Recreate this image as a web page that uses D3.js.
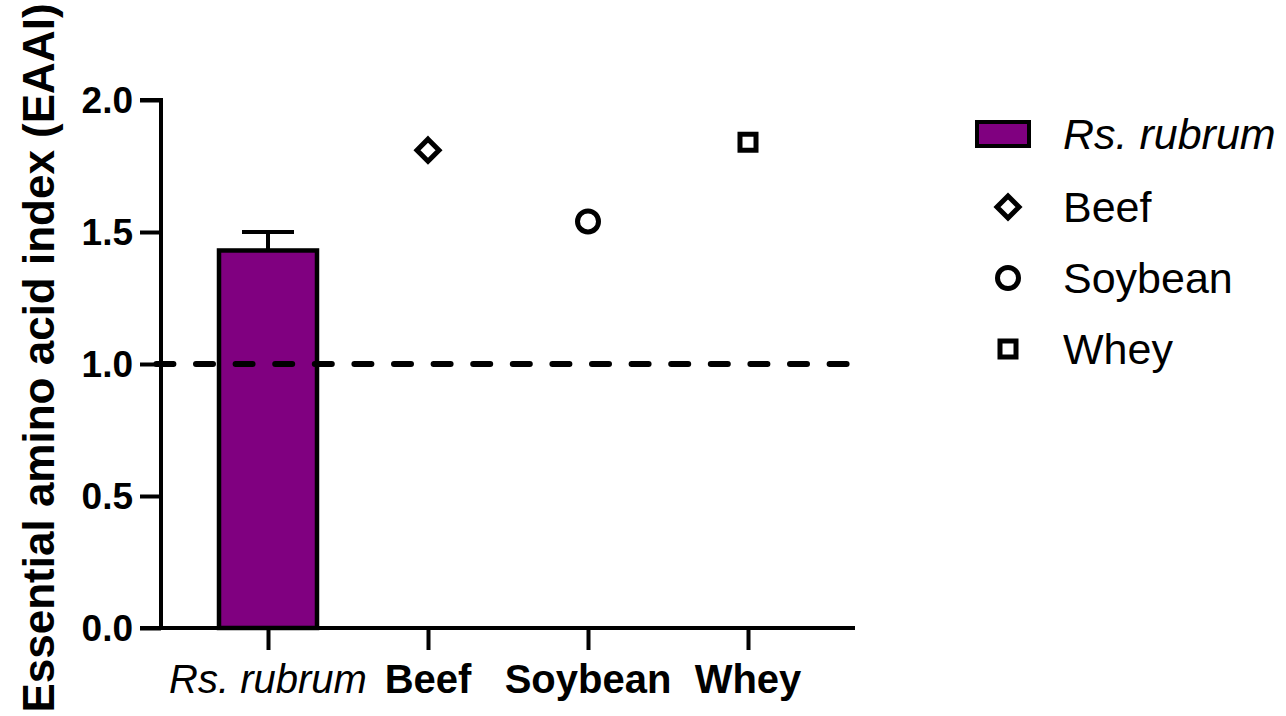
<!DOCTYPE html>
<html>
<head>
<meta charset="utf-8">
<script src="https://cdn.jsdelivr.net/npm/d3@7"></script>
<style>
  html, body { margin: 0; padding: 0; background: #fff; }
  svg { display: block; font-family: "Liberation Sans", Arial, sans-serif; }
</style>
</head>
<body>
<svg id="chart" width="1286" height="716"></svg>
<script>
// Essential amino acid index of Rs. rubrum compared with reference proteins
const categories = ["Rs. rubrum", "Beef", "Soybean", "Whey"];
const barValue = 1.43;          // Rs. rubrum mean
const barError = 0.07;          // upper error (SD)
const refValues = [1.81, 1.54, 1.84]; // Beef, Soybean, Whey
const refNames = ["Beef", "Soybean", "Whey"];
const refShapes = ["diamond", "circle", "square"];
const yTicks = [0.0, 0.5, 1.0, 1.5, 2.0];
const threshold = 1.0;
const barColor = "#800080";

const svg = d3.select("#chart");
const FONT = "'Liberation Sans', Arial, sans-serif";

const x = d3.scalePoint().domain(categories).range([268, 748]);
const y = d3.scaleLinear().domain([0, 2]).range([628, 100]);
const xLeft = 140, xRight = 855;

// bar
svg.append("rect")
  .attr("x", x("Rs. rubrum") - 49)
  .attr("width", 98)
  .attr("y", y(barValue))
  .attr("height", y(0) - y(barValue))
  .attr("fill", barColor)
  .attr("stroke", "#000")
  .attr("stroke-width", 4.5);

// error bar (upper only)
svg.append("line")
  .attr("x1", x("Rs. rubrum")).attr("x2", x("Rs. rubrum"))
  .attr("y1", y(barValue)).attr("y2", y(barValue + barError))
  .attr("stroke", "#000").attr("stroke-width", 4);
svg.append("line")
  .attr("x1", x("Rs. rubrum") - 26).attr("x2", x("Rs. rubrum") + 26)
  .attr("y1", y(barValue + barError)).attr("y2", y(barValue + barError))
  .attr("stroke", "#000").attr("stroke-width", 4);

// dashed reference line at EAAI = 1
svg.append("line")
  .attr("x1", xLeft).attr("x2", 847)
  .attr("y1", y(threshold)).attr("y2", y(threshold))
  .attr("stroke", "#000").attr("stroke-width", 6)
  .attr("stroke-linecap", "round")
  .attr("stroke-dasharray", "17,22.6")
  .attr("stroke-dashoffset", 23.2);

// marker drawer
function drawMarker(g, shape, cx, cy) {
  if (shape === "diamond") {
    const r = 11;
    g.append("path")
      .attr("d", `M${cx},${cy - r}L${cx + r},${cy}L${cx},${cy + r}L${cx - r},${cy}Z`)
      .attr("fill", "#fff").attr("stroke", "#000").attr("stroke-width", 5)
      .attr("stroke-linejoin", "miter");
  } else if (shape === "circle") {
    g.append("circle").attr("cx", cx).attr("cy", cy).attr("r", 10.5)
      .attr("fill", "#fff").attr("stroke", "#000").attr("stroke-width", 5);
  } else {
    const s = 16;
    g.append("rect").attr("x", cx - s / 2).attr("y", cy - s / 2)
      .attr("width", s).attr("height", s)
      .attr("fill", "#fff").attr("stroke", "#000").attr("stroke-width", 5);
  }
}

const pts = svg.append("g");
refNames.forEach((n, i) => drawMarker(pts, refShapes[i], x(n), y(refValues[i])));

// y axis (ticks and line), labels drawn separately
const yAxis = svg.append("g")
  .attr("transform", "translate(161,0)")
  .call(d3.axisLeft(y).tickValues(yTicks).tickFormat("").tickSize(21));
yAxis.select(".domain").attr("stroke-width", 4).attr("d", `M0,${y(0)}V${y(2)}H-21`);
yAxis.selectAll(".tick line").attr("stroke-width", 4);

svg.append("g").selectAll("text")
  .data(yTicks)
  .join("text")
  .attr("x", 133)
  .attr("y", d => y(d) + 13)
  .attr("text-anchor", "end")
  .attr("font-family", FONT)
  .attr("font-size", 37)
  .attr("font-weight", "bold")
  .text(d3.format(".1f"));

// x axis
const xAxis = svg.append("g")
  .attr("transform", `translate(0,${y(0)})`)
  .call(d3.axisBottom(x).tickSize(22).tickFormat(""));
xAxis.select(".domain").attr("stroke-width", 4).attr("d", `M${xLeft},0H${xRight}`);
xAxis.selectAll(".tick line").attr("stroke-width", 4);

svg.append("g").selectAll("text")
  .data(categories)
  .join("text")
  .attr("x", d => x(d))
  .attr("y", 693)
  .attr("text-anchor", "middle")
  .attr("font-size", 40)
  .attr("font-weight", d => d === "Rs. rubrum" ? "normal" : "bold")
  .attr("font-style", d => d === "Rs. rubrum" ? "italic" : "normal")
  .text(d => d);

// y axis title
svg.append("text")
  .attr("transform", "translate(54,358) rotate(-90)")
  .attr("text-anchor", "middle")
  .attr("font-size", 44)
  .attr("font-weight", "bold")
  .text("Essential amino acid index (EAAI)");

// legend
const legend = svg.append("g");
legend.append("rect")
  .attr("x", 977).attr("y", 122).attr("width", 52).attr("height", 24)
  .attr("fill", barColor).attr("stroke", "#000").attr("stroke-width", 4);
legend.append("text")
  .attr("x", 1063).attr("y", 149)
  .attr("font-size", 43).attr("font-style", "italic")
  .text("Rs. rubrum");
refNames.forEach((n, i) => {
  const cy = 207 + i * 71;
  drawMarker(legend, refShapes[i], 1008, cy);
  legend.append("text")
    .attr("x", 1063).attr("y", cy + 15)
    .attr("font-size", 43)
    .text(n);
});
</script>
</body>
</html>
